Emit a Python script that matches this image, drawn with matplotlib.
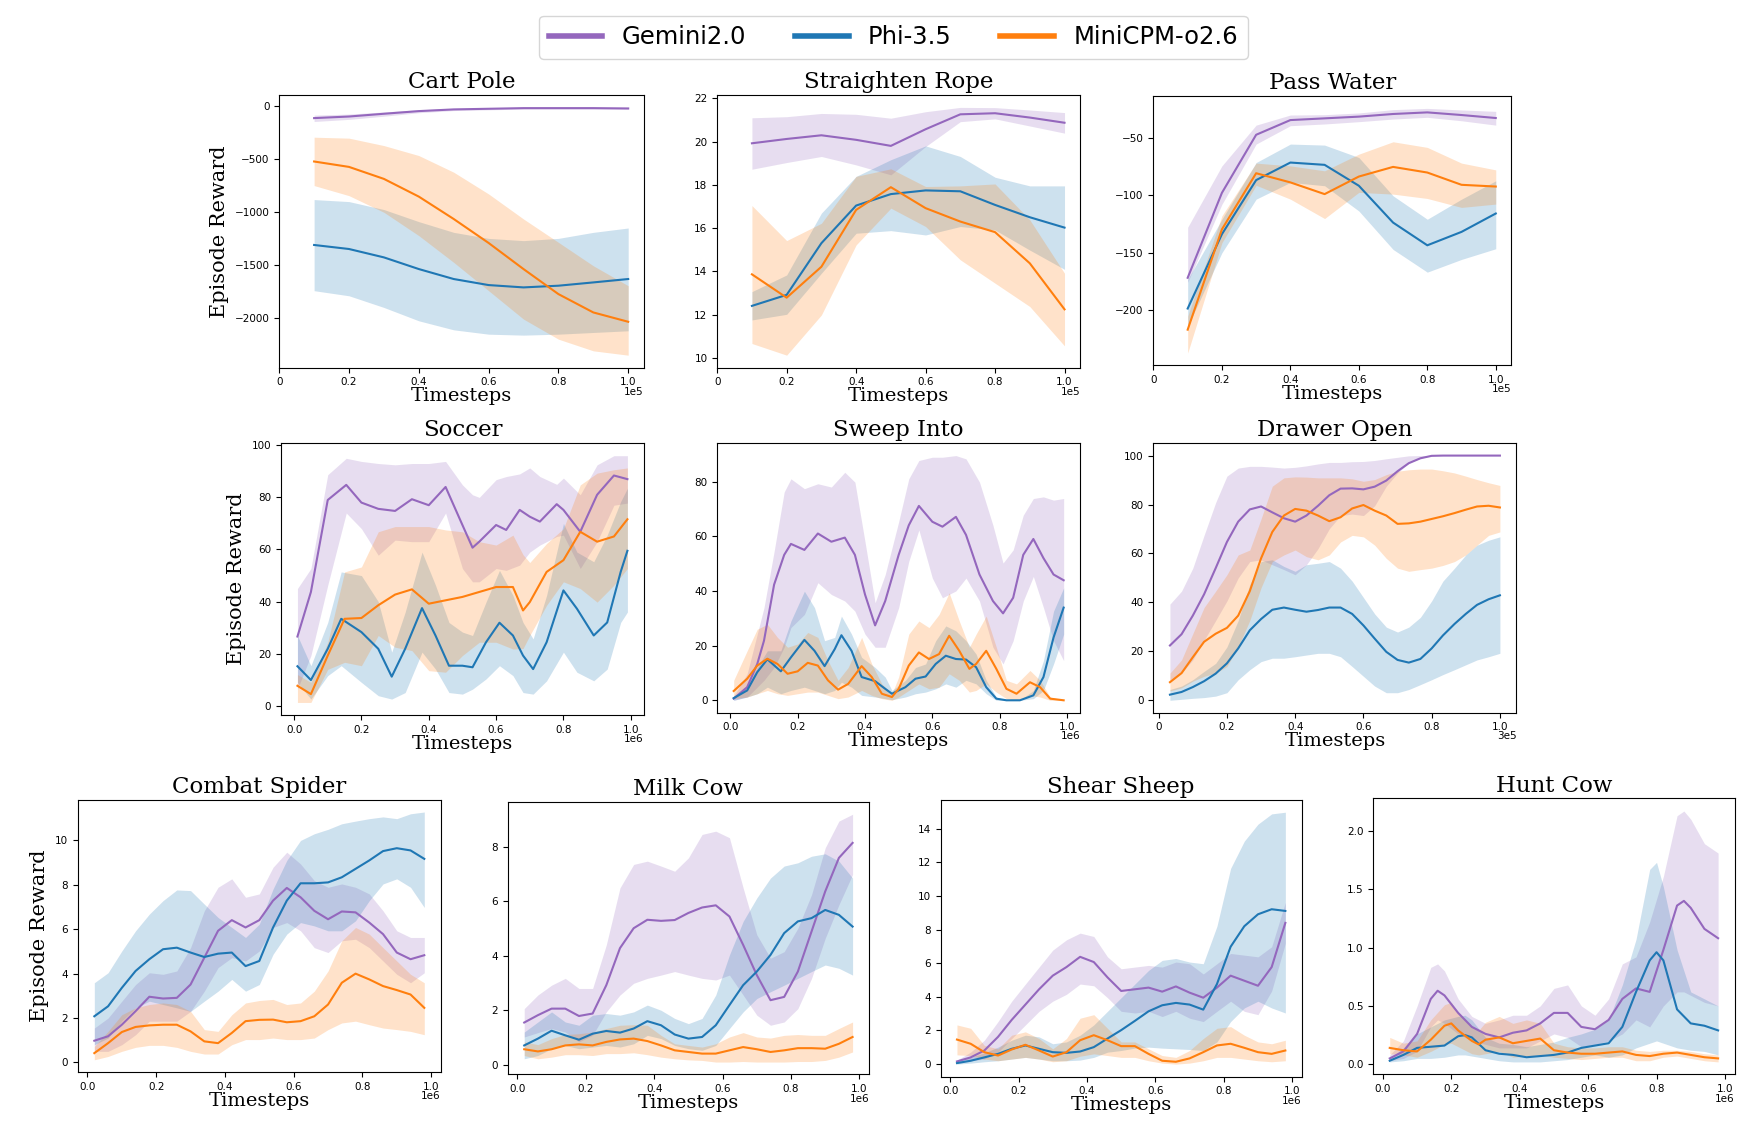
import matplotlib
matplotlib.use("Agg")
import matplotlib.pyplot as plt
from matplotlib.lines import Line2D

# ---------------- data ----------------
names = ["Gemini2.0", "Phi-3.5", "MiniCPM-o2.6"]
colors = ["tab:purple", "tab:blue", "tab:orange"]

# top row, x in units of 1e5
top_x = [0.1, 0.2, 0.3, 0.4, 0.5, 0.6, 0.7, 0.8, 0.9, 1.0]

cart_gem = [-113, -98, -72, -47, -31, -25, -19, -19, -19, -22]
cart_gem_lo = [-145, -125, -95, -62, -42, -35, -28, -27, -27, -30]
cart_gem_hi = [-85, -75, -55, -35, -22, -17, -12, -12, -12, -14]
cart_phi = [-1309, -1347, -1426, -1536, -1630, -1687, -1709, -1693, -1662, -1630]
cart_phi_lo = [-1740, -1788, -1898, -2024, -2109, -2150, -2159, -2150, -2134, -2118]
cart_phi_hi = [-881, -900, -975, -1089, -1190, -1247, -1268, -1247, -1190, -1149]
cart_cpm = [-522, -573, -686, -853, -1064, -1290, -1536, -1772, -1945, -2033]
cart_cpm_lo = [-749, -844, -1001, -1221, -1473, -1740, -2008, -2197, -2307, -2348]
cart_cpm_hi = [-293, -302, -372, -466, -623, -828, -1064, -1284, -1505, -1693]

rope_gem = [19.92, 20.12, 20.29, 20.08, 19.80, 20.57, 21.26, 21.31, 21.11, 20.87]
rope_gem_lo = [18.72, 19.03, 19.31, 18.92, 18.46, 19.77, 20.92, 21.05, 20.72, 20.39]
rope_gem_hi = [21.10, 21.15, 21.30, 21.26, 21.08, 21.38, 21.58, 21.57, 21.46, 21.34]
rope_phi = [12.40, 12.91, 15.30, 17.04, 17.57, 17.74, 17.70, 17.07, 16.50, 16.02]
rope_phi_lo = [11.75, 12.01, 13.91, 15.76, 15.88, 15.68, 16.07, 15.91, 14.98, 14.09]
rope_phi_hi = [13.06, 13.83, 16.69, 18.39, 19.16, 19.80, 19.31, 18.35, 17.95, 17.95]
rope_cpm = [13.86, 12.78, 14.21, 16.84, 17.89, 16.92, 16.30, 15.81, 14.37, 12.24]
rope_cpm_lo = [10.66, 10.12, 11.98, 15.22, 16.92, 16.07, 14.53, 13.45, 12.37, 10.55]
rope_cpm_hi = [17.04, 15.42, 16.22, 18.39, 18.74, 17.92, 17.95, 18.04, 16.38, 13.91]

water_gem = [-172, -98, -47.4, -34.6, -33.1, -31.6, -29.3, -27.9, -30.2, -32.8]
water_gem_lo = [-176, -108, -55.5, -39.5, -38, -36, -33.7, -32.2, -35.2, -39]
water_gem_hi = [-128, -74.5, -39, -30.2, -29.9, -28.4, -25.5, -24.4, -25.8, -27]
water_phi = [-198.8, -134, -86.9, -71.6, -73.6, -91.8, -123.9, -143.7, -132, -116]
water_phi_lo = [-214.3, -150.2, -103.5, -88.9, -91.8, -113.8, -147.3, -167.1, -156, -146.7]
water_phi_hi = [-173.5, -121, -71.6, -55.5, -56.4, -67.2, -100.6, -121, -103.5, -87.5]
water_cpm = [-217.2, -129.8, -80.9, -88.9, -99.1, -83.8, -75.4, -80.3, -91, -92.5]
water_cpm_lo = [-237.6, -141.5, -91.4, -103.5, -120.4, -97.6, -99.1, -102.9, -110.7, -107.8]
water_cpm_hi = [-205.5, -118, -72.1, -74.5, -78.8, -64.3, -53.5, -58.4, -72.1, -78]

# Soccer, x in units of 1e6
soccer_gem_x = [0.01, 0.05, 0.10, 0.155, 0.20, 0.25, 0.30, 0.35, 0.40, 0.45, 0.50, 0.53,
                0.55, 0.60, 0.63, 0.67, 0.70, 0.73, 0.78, 0.80, 0.85, 0.90, 0.95, 0.99]
soccer_gem = [26.6, 43.7, 79, 84.8, 78, 75.6, 74.8, 79.3, 77, 84, 69.4, 60.7,
              63, 69.4, 67.5, 75.2, 72.6, 70.7, 77.4, 75.2, 66.8, 81, 88.4, 87]
soccer_gem_hi = [45, 52.7, 88.7, 95, 93.8, 93, 92.5, 93, 93, 93.8, 84.8, 81,
                 80, 86.8, 88, 89, 91.3, 88, 85, 87.4, 81, 92.5, 96, 96]
soccer_gem_lo = [6.4, 19.3, 46.3, 74, 68, 57.8, 63.6, 63, 63, 74, 52.7, 47.6,
                 47.6, 52.7, 52, 54, 59, 61.7, 65, 65.5, 52.7, 63, 77, 77.8]
soccer_phi_x = [0.01, 0.05, 0.10, 0.14, 0.20, 0.25, 0.29, 0.33, 0.38, 0.42, 0.46, 0.50, 0.53,
                0.57, 0.61, 0.65, 0.68, 0.71, 0.75, 0.80, 0.84, 0.89, 0.93, 0.97, 0.99]
soccer_phi = [15.2, 9.9, 21.9, 33.4, 28.3, 21.9, 11.2, 21.9, 37.5, 27, 15.4, 15.4, 14.8,
              24.4, 31.9, 27, 19.3, 14.1, 24.4, 44.3, 37.3, 27, 32, 51.4, 59.5]
soccer_phi_hi = [27, 15.4, 32, 51.4, 50, 40, 20.6, 36, 59, 46.3, 32, 28.3, 27,
                 39.8, 52, 42.4, 32, 25.7, 42.4, 70, 59, 55.3, 65.5, 78.4, 83.5]
soccer_phi_lo = [9, 2.6, 11.6, 15.4, 9, 3.9, 2.6, 5.1, 20.6, 14.1, 5.1, 4.5, 6.4,
                 10.3, 15.4, 11.6, 5.1, 4.5, 9.6, 20.6, 12.9, 9.6, 14.1, 32, 36]
soccer_cpm_x = [0.01, 0.05, 0.10, 0.15, 0.20, 0.25, 0.30, 0.35, 0.40, 0.45, 0.50,
                0.55, 0.60, 0.65, 0.68, 0.70, 0.75, 0.80, 0.85, 0.90, 0.95, 0.99]
soccer_cpm = [7.7, 4.5, 19.3, 33.4, 33.7, 38.6, 42.7, 44.7, 39.2, 40.5, 41.8,
              43.7, 45.6, 45.6, 36.6, 39.8, 51.4, 55.9, 66.8, 63, 65, 71.6]
soccer_cpm_hi = [12, 9, 24.4, 51.4, 53.3, 66.8, 68.8, 68.8, 68.8, 67.5, 66.8,
                 63, 61.7, 65.5, 58, 55, 62.3, 68, 84.8, 89.3, 90.6, 91.3]
soccer_cpm_lo = [1.3, 1.3, 14, 16.7, 15.4, 27, 22.5, 21.2, 13.5, 12.9, 19.3,
                 24.4, 24.4, 21.8, 22, 27, 38.6, 47.6, 45, 39.8, 46.3, 52.7]

# Sweep Into, x in units of 1e6
sweep_gem_x = [0.01, 0.05, 0.08, 0.10, 0.13, 0.16, 0.18, 0.22, 0.26, 0.30, 0.34, 0.37, 0.40, 0.43, 0.46, 0.50,
               0.53, 0.56, 0.60, 0.63, 0.67, 0.70, 0.74, 0.78, 0.81, 0.84, 0.87, 0.90, 0.93, 0.96, 0.99]
sweep_gem = [0.6, 4.8, 13.3, 21.8, 42.3, 53.2, 57.2, 55, 61, 58, 59.5, 53.2, 38.7, 27.4, 36.3, 53.2,
             64, 71.1, 65.3, 63.5, 67.1, 60.5, 46, 36.3, 31.8, 37.5, 53.2, 59, 52, 46, 43.9]
sweep_gem_hi = [1.5, 9.7, 24.2, 33.9, 54.4, 76.2, 81, 77.4, 79.2, 78, 83.4, 79.8, 58, 35.7, 46, 65.3,
                81, 87.7, 88.9, 88.9, 89.5, 88.3, 79.8, 64, 50.2, 55, 67.7, 73.8, 74.4, 73.2, 73.8]
sweep_gem_lo = [0, 1.2, 4.8, 7.3, 12, 19.4, 26.6, 31.4, 43, 38.7, 36.3, 32.6, 24.2, 19.4, 19.4, 33.9,
                50.8, 62.3, 44.7, 37.5, 40, 44.7, 36.3, 19.4, 13.3, 21.8, 36.3, 45.3, 33.9, 21.8, 14.5]
sweep_phi_x = [0.01, 0.05, 0.08, 0.11, 0.15, 0.18, 0.22, 0.25, 0.28, 0.31, 0.33, 0.36, 0.39, 0.43, 0.46, 0.48,
               0.52, 0.55, 0.58, 0.61, 0.64, 0.67, 0.70, 0.73, 0.76, 0.79, 0.82, 0.86, 0.90, 0.93, 0.96, 0.99]
sweep_phi = [0.8, 3.6, 10.3, 15, 10.6, 15.7, 22.1, 18.1, 12.5, 18.7, 23.8, 18.1, 8.5, 7, 4.2, 2.4,
             4.8, 7.9, 8.7, 13.3, 16.3, 15.1, 14.9, 12.1, 4.8, 0.6, 0, 0, 1.8, 8.5, 23, 33.9]
sweep_phi_hi = [1.2, 5.4, 12, 18.1, 18.1, 29, 39.9, 33.9, 21.8, 23, 30.8, 24.2, 15.7, 12, 8.5, 3.6,
                7.3, 12, 13.3, 21.8, 27.2, 25.4, 21.8, 16.9, 7.3, 1.2, 0, 0, 3.6, 14.5, 32.6, 41.1]
sweep_phi_lo = [0, 1.2, 2.4, 4.8, 2.4, 3.6, 4.8, 3.6, 2.4, 3.6, 6.6, 4.8, 1.8, 1.2, 0.6, 0.2,
                1.2, 2.4, 3, 4.2, 6, 4.8, 7.3, 6, 2.4, 0, 0, 0, 0.6, 3.6, 13.3, 24.2]
sweep_cpm_x = [0.01, 0.05, 0.08, 0.11, 0.14, 0.17, 0.20, 0.23, 0.26, 0.29, 0.32, 0.35, 0.39, 0.42, 0.45, 0.48, 0.50,
               0.53, 0.56, 0.59, 0.62, 0.65, 0.68, 0.71, 0.73, 0.76, 0.79, 0.82, 0.85, 0.89, 0.92, 0.95, 0.99]
sweep_cpm = [3.4, 7.9, 12.7, 15.2, 13.3, 9.7, 10.6, 13.7, 12.7, 7.3, 3.9, 6, 12.5, 8.5, 2.4, 1.2, 4.2,
             12.7, 17.5, 15.1, 16.9, 23.6, 18.1, 11.5, 13.3, 18.1, 11.5, 4.2, 2.4, 6.6, 4.8, 0.6, 0]
sweep_cpm_hi = [7.3, 18.1, 26, 27.8, 23, 19.4, 20.6, 24.8, 23, 14.5, 7.3, 12, 23, 13.3, 6, 2.4, 8.5,
                24.2, 29, 26.6, 31.4, 39.3, 29, 19.4, 24.2, 30.8, 19.4, 7.3, 6, 10.9, 7.3, 1.2, 0]
sweep_cpm_lo = [0.6, 1.2, 2.4, 3.6, 2.4, 1.8, 2.4, 3, 3, 1.8, 0.6, 1.2, 3.6, 1.8, 0.6, 0, 1.2,
                3.6, 6, 4.2, 4.8, 9.7, 7.3, 3, 3.6, 6, 3, 0.6, 0, 1.8, 1.2, 0, 0]

# Drawer Open, x in units of 3e5
drawer_x = [0.033, 0.067, 0.100, 0.133, 0.167, 0.200, 0.233, 0.267, 0.300, 0.333,
            0.367, 0.400, 0.433, 0.467, 0.500, 0.533, 0.567, 0.600, 0.633, 0.667,
            0.700, 0.733, 0.767, 0.800, 0.833, 0.867, 0.900, 0.933, 0.967, 1.000]
drawer_gem = [22.4, 27, 34.6, 43.3, 54, 64.7, 73, 78, 79.2, 76.8, 74.4, 73, 75.5, 79.5, 83.8,
              86.5, 86.6, 86.2, 87.3, 89.8, 93.6, 96.9, 98.9, 99.9, 100, 100, 100, 100, 100, 100]
drawer_gem_hi = [39.3, 44.6, 54, 67.4, 80.8, 91.6, 94.9, 95.6, 95.6, 95.3, 94.9, 95.2, 95.8, 96.6, 97.2,
                 97.2, 97.5, 97.6, 98, 98.7, 99.3, 99.9, 100, 100, 100, 100, 100, 100, 100, 100]
drawer_gem_lo = [8.4, 11.1, 16.5, 24.5, 32.6, 40.6, 50, 56.7, 57.4, 55.4, 53.4, 51.3, 55.4, 62, 70.1,
                 75.5, 76.1, 75.5, 79.5, 87.5, 92.9, 96.9, 98.9, 99.9, 100, 100, 100, 100, 100, 100]
drawer_phi = [2.3, 3.4, 5.4, 7.8, 10.9, 15.1, 21.2, 28.6, 33.2, 37, 37.9, 37, 36.2, 36.9, 37.9,
              37.9, 35.3, 30.6, 25.2, 19.8, 16.5, 15.4, 16.9, 21.2, 26.5, 31.2, 35.3, 39, 41.3, 42.9]
drawer_phi_hi = [4.4, 5.8, 8.4, 11.8, 15.1, 21.8, 32.6, 47.3, 56.7, 57.4, 54.7, 52.7, 55.4, 56, 56.7,
                 54, 48.7, 42, 35.3, 29.9, 27.9, 29.9, 33.9, 40.6, 48.7, 54, 59.4, 63.4, 65.4, 66.8]
drawer_phi_lo = [0, 0.4, 0.8, 1.1, 1.7, 3.1, 8.4, 12.5, 15.8, 17.2, 17.2, 17.8, 18.5, 19.2, 19.2,
                 17.8, 13.8, 9.8, 5.8, 3.1, 3.1, 4.4, 6.4, 8.4, 10.5, 12.5, 14.5, 16.5, 17.8, 19.2]
drawer_cpm = [7.4, 11.1, 17.6, 23.9, 27.2, 29.6, 34.6, 44.6, 58, 68.8, 75.5, 78.2, 77.5, 75.5, 73.2,
              74.8, 78.4, 79.8, 77.5, 75.5, 72.1, 72.3, 73, 74.1, 75.2, 76.5, 77.9, 79.2, 79.5, 78.8]
drawer_cpm_hi = [11.1, 16.5, 27.2, 37.9, 44.6, 51.3, 59.4, 61.4, 74.1, 87.5, 90.9, 91.3, 91.2, 90.9, 90.9,
                 90.9, 90.5, 89.5, 90.2, 92.2, 93.6, 94.2, 94.5, 94.5, 93.8, 92.9, 91.6, 90.2, 88.9, 87.8]
drawer_cpm_lo = [3.8, 5.1, 7.8, 9.8, 11.1, 13.8, 21.8, 32.6, 46, 56.7, 59.4, 61.4, 58.7, 57.4, 59.4,
                 64.7, 67.4, 66.8, 63.4, 58, 54, 52.7, 53.4, 54, 55.1, 56.7, 59.4, 63.4, 67.4, 68.8]

# bottom row, x in units of 1e6
bottom_x = [0.02, 0.06, 0.10, 0.14, 0.18, 0.22, 0.26, 0.30, 0.34, 0.38, 0.42, 0.46, 0.50,
            0.54, 0.58, 0.62, 0.66, 0.70, 0.74, 0.78, 0.82, 0.86, 0.90, 0.94, 0.98]

spider_gem = [0.98, 1.18, 1.7, 2.31, 2.96, 2.88, 2.91, 3.51, 4.72, 5.93, 6.41, 6.08, 6.41,
              7.29, 7.86, 7.44, 6.83, 6.45, 6.8, 6.76, 6.3, 5.78, 4.95, 4.65, 4.83]
spider_gem_hi = [1.55, 2.0, 2.76, 3.51, 4.04, 3.97, 4.12, 5.17, 6.83, 7.89, 8.27, 7.44, 7.59,
                 8.79, 9.47, 8.94, 8.19, 7.89, 8.04, 7.89, 7.59, 6.83, 5.93, 5.63, 5.63]
spider_gem_lo = [0.5, 0.5, 0.8, 1.25, 1.86, 1.86, 1.86, 2.3, 3.21, 4.27, 4.72, 4.57, 5.02,
                 6.08, 6.3, 5.93, 5.17, 4.95, 5.48, 5.55, 5.17, 4.57, 3.97, 3.59, 4.04]
spider_phi = [2.08, 2.53, 3.36, 4.12, 4.65, 5.1, 5.17, 4.95, 4.75, 4.9, 4.95, 4.34, 4.57,
              6.08, 7.29, 8.07, 8.07, 8.11, 8.34, 8.72, 9.1, 9.52, 9.65, 9.55, 9.17]
spider_phi_hi = [3.59, 4.04, 5.02, 5.93, 6.68, 7.29, 7.77, 7.74, 7.13, 6.53, 6.08, 5.63, 6.23,
                 7.81, 9.1, 10, 10.3, 10.5, 10.75, 10.87, 10.98, 11.06, 10.98, 11.2, 11.28]
spider_phi_lo = [0.8, 1.1, 1.86, 2.46, 2.76, 2.61, 2.46, 2.3, 2.76, 3.21, 3.74, 3.21, 3.51,
                 4.87, 5.78, 6.3, 6.15, 5.93, 5.93, 6.38, 7.29, 8.04, 8.27, 7.89, 6.98]
spider_cpm = [0.42, 0.87, 1.37, 1.6, 1.67, 1.7, 1.7, 1.4, 0.95, 0.87, 1.33, 1.86, 1.92,
              1.93, 1.81, 1.86, 2.08, 2.61, 3.59, 4.0, 3.74, 3.44, 3.26, 3.06, 2.46]
spider_cpm_hi = [0.72, 1.4, 2.15, 2.46, 2.61, 2.68, 2.61, 2.3, 1.48, 1.4, 2.15, 2.68, 2.79,
                 2.84, 2.61, 2.68, 3.21, 4.12, 5.48, 6.08, 5.78, 5.17, 4.57, 3.97, 3.59]
spider_cpm_lo = [0.12, 0.27, 0.5, 0.68, 0.77, 0.77, 0.68, 0.5, 0.38, 0.38, 0.8, 1.03, 1.03,
                 1.1, 1.03, 1.03, 1.1, 1.48, 1.78, 1.86, 1.7, 1.55, 1.48, 1.4, 1.25]

milk_gem = [1.55, 1.82, 2.06, 2.06, 1.79, 1.88, 2.92, 4.28, 5.01, 5.32, 5.28, 5.31, 5.57,
            5.77, 5.85, 5.44, 4.4, 3.29, 2.37, 2.49, 3.42, 4.89, 6.36, 7.59, 8.14]
milk_gem_hi = [2.06, 2.56, 2.92, 3.17, 2.8, 2.8, 4.4, 6.49, 7.35, 7.47, 7.29, 7.1, 7.59,
               8.45, 8.57, 8.33, 6.49, 4.77, 3.91, 4.15, 5.01, 6.24, 7.96, 8.94, 9.19]
milk_gem_lo = [1.02, 1.18, 1.33, 1.2, 0.84, 1.08, 1.94, 2.56, 2.99, 3.17, 3.29, 3.42, 3.29,
               3.17, 3.11, 3.29, 2.56, 1.82, 1.45, 1.57, 2.06, 3.17, 4.64, 5.87, 6.98]
milk_phi = [0.71, 0.96, 1.25, 1.08, 0.92, 1.14, 1.24, 1.18, 1.33, 1.6, 1.45, 1.11, 0.96,
            1.02, 1.45, 2.19, 2.92, 3.42, 4.03, 4.83, 5.26, 5.38, 5.68, 5.5, 5.07]
milk_phi_hi = [1.2, 1.57, 1.94, 1.57, 1.45, 1.82, 1.88, 1.82, 1.94, 2.19, 2.0, 1.7, 1.51,
               1.7, 2.56, 4.03, 5.26, 6.12, 6.85, 7.29, 7.41, 7.65, 7.74, 7.47, 6.85]
milk_phi_lo = [0.22, 0.34, 0.59, 0.71, 0.59, 0.65, 0.71, 0.65, 0.77, 1.08, 0.96, 0.71, 0.59,
               0.53, 0.71, 1.33, 1.94, 2.43, 2.68, 2.92, 3.17, 3.42, 3.66, 3.54, 3.29]
milk_cpm = [0.57, 0.49, 0.57, 0.71, 0.75, 0.71, 0.84, 0.93, 0.96, 0.87, 0.71, 0.53, 0.47,
            0.41, 0.41, 0.53, 0.65, 0.57, 0.47, 0.53, 0.61, 0.61, 0.59, 0.77, 1.02]
milk_cpm_hi = [0.84, 0.74, 0.96, 1.11, 1.14, 1.2, 1.33, 1.45, 1.47, 1.45, 1.08, 0.77, 0.71,
               0.65, 0.77, 1.02, 1.18, 1.02, 0.98, 1.08, 1.11, 1.08, 1.08, 1.33, 1.57]
milk_cpm_lo = [0.34, 0.22, 0.28, 0.37, 0.37, 0.34, 0.41, 0.41, 0.44, 0.37, 0.28, 0.22, 0.18,
               0.16, 0.1, 0.1, 0.12, 0.1, 0.1, 0.1, 0.12, 0.12, 0.16, 0.28, 0.47]

sheep_gem = [0.16, 0.4, 0.81, 1.62, 2.63, 3.54, 4.45, 5.26, 5.77, 6.38, 6.07, 5.16, 4.35,
             4.45, 4.55, 4.31, 4.62, 4.25, 3.95, 4.55, 5.26, 4.96, 4.66, 5.77, 8.4]
sheep_gem_hi = [0.24, 0.71, 1.42, 2.53, 3.74, 4.76, 5.77, 6.78, 7.39, 7.79, 7.59, 6.38, 5.67,
                5.77, 5.87, 5.77, 6.07, 5.97, 5.36, 5.97, 6.58, 6.48, 6.38, 6.98, 9.62]
sheep_gem_lo = [0.1, 0.2, 0.3, 0.71, 1.52, 2.33, 3.14, 3.74, 4.15, 4.76, 4.66, 3.95, 3.14,
                3.04, 3.14, 2.83, 3.14, 2.73, 2.53, 3.14, 3.74, 3.14, 2.94, 4.35, 7.19]
sheep_phi = [0.06, 0.2, 0.4, 0.61, 0.91, 1.11, 0.91, 0.71, 0.67, 0.75, 1.01, 1.52, 2.02,
             2.57, 3.14, 3.5, 3.64, 3.54, 3.24, 4.76, 6.98, 8.2, 8.91, 9.21, 9.11]
sheep_phi_hi = [0.2, 0.4, 0.67, 1.01, 1.42, 1.72, 1.62, 1.21, 1.32, 1.72, 2.33, 3.14, 3.95,
                4.76, 5.57, 6.17, 6.28, 6.07, 5.97, 8.2, 11.64, 13.26, 14.27, 14.88, 14.98]
sheep_phi_lo = [0, 0.06, 0.14, 0.2, 0.3, 0.4, 0.3, 0.2, 0.2, 0.24, 0.4, 0.71, 0.81,
                0.95, 1.01, 0.95, 0.91, 0.87, 0.81, 1.32, 2.53, 3.34, 3.74, 3.34, 3.04]
sheep_cpm = [1.46, 1.21, 0.71, 0.51, 0.87, 1.15, 0.81, 0.45, 0.71, 1.42, 1.72, 1.42, 1.07,
             1.07, 0.61, 0.2, 0.14, 0.34, 0.71, 1.11, 1.21, 0.97, 0.71, 0.61, 0.81]
sheep_cpm_hi = [2.33, 2.13, 1.11, 0.91, 1.72, 1.92, 1.52, 0.91, 1.52, 2.73, 2.94, 2.13, 1.32,
                1.32, 0.91, 0.51, 0.4, 0.81, 1.52, 2.13, 2.23, 1.72, 1.32, 1.21, 1.42]
sheep_cpm_lo = [0.55, 0.51, 0.3, 0.2, 0.3, 0.4, 0.3, 0.14, 0.2, 0.47, 0.61, 0.51, 0.4,
                0.4, 0.2, 0.06, 0, 0.06, 0.2, 0.4, 0.4, 0.3, 0.2, 0.14, 0.2]

hunt_gem_x = [0.02, 0.06, 0.10, 0.14, 0.16, 0.18, 0.22, 0.26, 0.30, 0.34, 0.38, 0.42, 0.46, 0.50,
              0.54, 0.58, 0.62, 0.66, 0.70, 0.74, 0.78, 0.82, 0.86, 0.88, 0.90, 0.94, 0.98]
hunt_gem = [0.05, 0.11, 0.26, 0.56, 0.63, 0.59, 0.44, 0.32, 0.26, 0.23, 0.27, 0.29, 0.35, 0.44,
            0.44, 0.32, 0.3, 0.38, 0.56, 0.65, 0.62, 0.98, 1.36, 1.4, 1.34, 1.16, 1.08]
hunt_gem_hi = [0.08, 0.2, 0.5, 0.83, 0.86, 0.8, 0.56, 0.41, 0.35, 0.38, 0.42, 0.42, 0.5, 0.65,
               0.68, 0.5, 0.42, 0.56, 0.86, 0.92, 1.22, 1.61, 2.13, 2.17, 2.1, 1.89, 1.81]
hunt_gem_lo = [0.03, 0.05, 0.11, 0.32, 0.38, 0.35, 0.26, 0.2, 0.17, 0.14, 0.14, 0.14, 0.2, 0.26,
               0.23, 0.15, 0.17, 0.2, 0.26, 0.38, 0.32, 0.5, 0.62, 0.62, 0.59, 0.53, 0.5]
hunt_phi_x = [0.02, 0.06, 0.10, 0.14, 0.18, 0.22, 0.24, 0.26, 0.30, 0.34, 0.38, 0.42, 0.46, 0.50,
              0.54, 0.58, 0.62, 0.66, 0.70, 0.74, 0.78, 0.80, 0.82, 0.86, 0.90, 0.94, 0.98]
hunt_phi = [0.03, 0.08, 0.14, 0.15, 0.16, 0.24, 0.25, 0.23, 0.12, 0.09, 0.08, 0.06, 0.07, 0.08,
            0.1, 0.14, 0.16, 0.18, 0.32, 0.62, 0.89, 0.96, 0.89, 0.47, 0.35, 0.33, 0.29]
hunt_phi_hi = [0.05, 0.14, 0.26, 0.32, 0.38, 0.41, 0.42, 0.38, 0.23, 0.18, 0.17, 0.15, 0.17, 0.19,
               0.23, 0.26, 0.3, 0.38, 0.68, 1.07, 1.67, 1.73, 1.52, 0.98, 0.62, 0.56, 0.5]
hunt_phi_lo = [0.02, 0.03, 0.05, 0.05, 0.06, 0.08, 0.08, 0.07, 0.05, 0.03, 0.02, 0.02, 0.02, 0.03,
               0.04, 0.06, 0.08, 0.06, 0.08, 0.14, 0.18, 0.2, 0.18, 0.14, 0.12, 0.11, 0.08]
hunt_cpm_x = [0.02, 0.06, 0.10, 0.14, 0.18, 0.20, 0.22, 0.26, 0.28, 0.30, 0.34, 0.38, 0.42, 0.46,
              0.50, 0.54, 0.58, 0.62, 0.66, 0.70, 0.74, 0.78, 0.82, 0.86, 0.90, 0.94, 0.98]
hunt_cpm = [0.14, 0.12, 0.11, 0.21, 0.33, 0.35, 0.29, 0.2, 0.17, 0.21, 0.23, 0.18, 0.2, 0.22,
            0.12, 0.1, 0.09, 0.09, 0.1, 0.11, 0.08, 0.07, 0.09, 0.1, 0.08, 0.06, 0.05]
hunt_cpm_hi = [0.23, 0.18, 0.2, 0.38, 0.51, 0.53, 0.44, 0.32, 0.29, 0.36, 0.41, 0.35, 0.38, 0.35,
               0.18, 0.15, 0.14, 0.14, 0.15, 0.15, 0.12, 0.11, 0.12, 0.12, 0.11, 0.09, 0.08]
hunt_cpm_lo = [0.09, 0.08, 0.06, 0.11, 0.17, 0.18, 0.15, 0.09, 0.08, 0.09, 0.11, 0.06, 0.07, 0.08,
               0.06, 0.05, 0.04, 0.05, 0.06, 0.06, 0.03, 0.03, 0.06, 0.07, 0.05, 0.03, 0.02]

# ---------------- figure ----------------
fig = plt.figure(figsize=(17.45, 11.31), dpi=100)

serif = "DejaVu Serif"
tick_pos = [0, 0.2, 0.4, 0.6, 0.8, 1.0]
labels_int0 = ["0", "0.2", "0.4", "0.6", "0.8", "1.0"]
labels_f0 = ["0.0", "0.2", "0.4", "0.6", "0.8", "1.0"]


def draw(ax, x, mean, lo, hi, color):
    ax.fill_between(x, lo, hi, color=color, alpha=0.22, linewidth=0)
    ax.plot(x, mean, color=color, linewidth=1.5)


def setup(ax, title, offset, ticklabels, ylabel=False, left0=False):
    ax.set_title(title, fontfamily=serif, fontsize=16.5, pad=5)
    ax.set_xlabel("Timesteps", fontfamily=serif, fontsize=14, labelpad=0)
    if ylabel:
        ax.set_ylabel("Episode Reward", fontfamily=serif, fontsize=15)
    ax.set_xticks(tick_pos)
    ax.set_xticklabels(ticklabels)
    if left0:
        ax.set_xlim(left=0)
    ax.tick_params(labelsize=7.5)
    ax.text(1.0, -0.07, offset, transform=ax.transAxes, ha="right", va="top", fontsize=7.5)


# top row
ax = fig.add_axes([0.160, 0.675, 0.209, 0.241])
draw(ax, top_x, cart_gem, cart_gem_lo, cart_gem_hi, colors[0])
draw(ax, top_x, cart_phi, cart_phi_lo, cart_phi_hi, colors[1])
draw(ax, top_x, cart_cpm, cart_cpm_lo, cart_cpm_hi, colors[2])
setup(ax, "Cart Pole", "1e5", labels_int0, ylabel=True, left0=True)

ax = fig.add_axes([0.411, 0.675, 0.208, 0.241])
draw(ax, top_x, rope_gem, rope_gem_lo, rope_gem_hi, colors[0])
draw(ax, top_x, rope_phi, rope_phi_lo, rope_phi_hi, colors[1])
draw(ax, top_x, rope_cpm, rope_cpm_lo, rope_cpm_hi, colors[2])
setup(ax, "Straighten Rope", "1e5", labels_int0, left0=True)

ax = fig.add_axes([0.661, 0.677, 0.205, 0.238])
draw(ax, top_x, water_gem, water_gem_lo, water_gem_hi, colors[0])
draw(ax, top_x, water_phi, water_phi_lo, water_phi_hi, colors[1])
draw(ax, top_x, water_cpm, water_cpm_lo, water_cpm_hi, colors[2])
setup(ax, "Pass Water", "1e5", labels_int0, left0=True)

# middle row
ax = fig.add_axes([0.161, 0.368, 0.208, 0.240])
draw(ax, soccer_gem_x, soccer_gem, soccer_gem_lo, soccer_gem_hi, colors[0])
draw(ax, soccer_phi_x, soccer_phi, soccer_phi_lo, soccer_phi_hi, colors[1])
draw(ax, soccer_cpm_x, soccer_cpm, soccer_cpm_lo, soccer_cpm_hi, colors[2])
setup(ax, "Soccer", "1e6", labels_f0, ylabel=True)

ax = fig.add_axes([0.411, 0.370, 0.208, 0.238])
draw(ax, sweep_gem_x, sweep_gem, sweep_gem_lo, sweep_gem_hi, colors[0])
draw(ax, sweep_phi_x, sweep_phi, sweep_phi_lo, sweep_phi_hi, colors[1])
draw(ax, sweep_cpm_x, sweep_cpm, sweep_cpm_lo, sweep_cpm_hi, colors[2])
setup(ax, "Sweep Into", "1e6", labels_f0)

ax = fig.add_axes([0.661, 0.370, 0.208, 0.238])
draw(ax, drawer_x, drawer_gem, drawer_gem_lo, drawer_gem_hi, colors[0])
draw(ax, drawer_x, drawer_phi, drawer_phi_lo, drawer_phi_hi, colors[1])
draw(ax, drawer_x, drawer_cpm, drawer_cpm_lo, drawer_cpm_hi, colors[2])
setup(ax, "Drawer Open", "3e5", labels_int0)

# bottom row
ax = fig.add_axes([0.0446, 0.052, 0.208, 0.241])
draw(ax, bottom_x, spider_gem, spider_gem_lo, spider_gem_hi, colors[0])
draw(ax, bottom_x, spider_phi, spider_phi_lo, spider_phi_hi, colors[1])
draw(ax, bottom_x, spider_cpm, spider_cpm_lo, spider_cpm_hi, colors[2])
setup(ax, "Combat Spider", "1e6", labels_f0, ylabel=True)

ax = fig.add_axes([0.291, 0.050, 0.207, 0.241])
draw(ax, bottom_x, milk_gem, milk_gem_lo, milk_gem_hi, colors[0])
draw(ax, bottom_x, milk_phi, milk_phi_lo, milk_phi_hi, colors[1])
draw(ax, bottom_x, milk_cpm, milk_cpm_lo, milk_cpm_hi, colors[2])
setup(ax, "Milk Cow", "1e6", labels_f0)

ax = fig.add_axes([0.539, 0.048, 0.207, 0.245])
draw(ax, bottom_x, sheep_gem, sheep_gem_lo, sheep_gem_hi, colors[0])
draw(ax, bottom_x, sheep_phi, sheep_phi_lo, sheep_phi_hi, colors[1])
draw(ax, bottom_x, sheep_cpm, sheep_cpm_lo, sheep_cpm_hi, colors[2])
setup(ax, "Shear Sheep", "1e6", labels_f0)

ax = fig.add_axes([0.787, 0.050, 0.207, 0.244])
draw(ax, hunt_gem_x, hunt_gem, hunt_gem_lo, hunt_gem_hi, colors[0])
draw(ax, hunt_phi_x, hunt_phi, hunt_phi_lo, hunt_phi_hi, colors[1])
draw(ax, hunt_cpm_x, hunt_cpm, hunt_cpm_lo, hunt_cpm_hi, colors[2])
setup(ax, "Hunt Cow", "1e6", labels_f0)

# legend on top
handles = [Line2D([0], [0], color=c, linewidth=4) for c in colors]
fig.legend(handles, names, loc="upper center", bbox_to_anchor=(0.512, 0.997), ncol=3,
           fontsize=17.5, frameon=True, edgecolor="#cccccc", handlelength=2.2,
           columnspacing=2.0, borderpad=0.4)

plt.savefig("out.png", dpi=100)
